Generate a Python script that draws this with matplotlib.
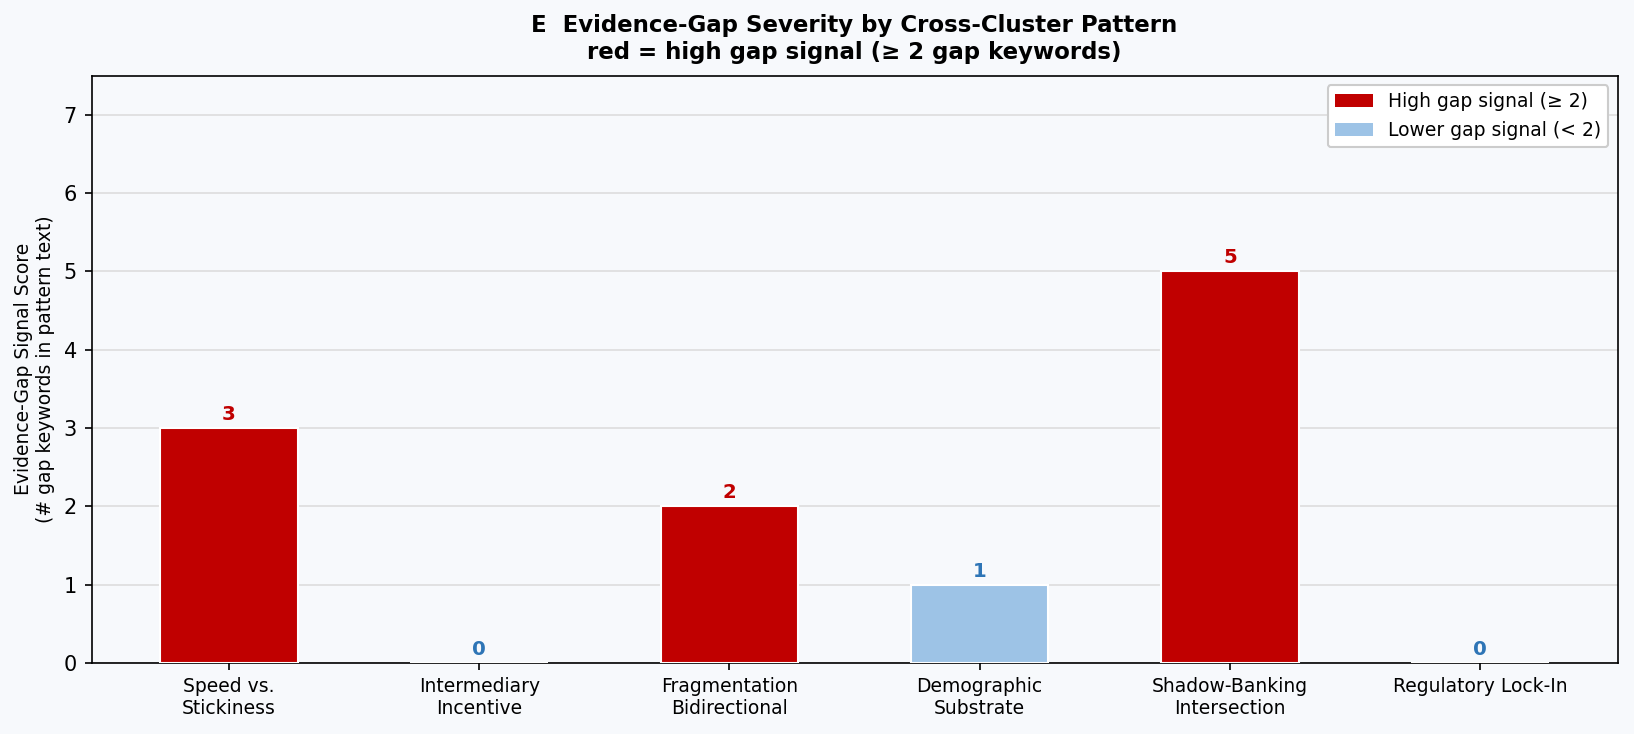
import matplotlib.pyplot as plt
import numpy as np
from matplotlib.patches import Patch

# pattern names and gap keyword counts
patterns = ['Speed vs.\nStickiness', 'Intermediary\nIncentive', 'Fragmentation\nBidirectional',
            'Demographic\nSubstrate', 'Shadow-Banking\nIntersection', 'Regulatory Lock-In']
scores = [3, 0, 2, 1, 5, 0]

red = '#C00000'
blue = '#9DC3E6'
blue_txt = '#2E75B6'
bg = '#F7F9FC'

fig, ax = plt.subplots(figsize=(1634 / 150, 734 / 150), dpi=150)
fig.patch.set_facecolor(bg)
ax.set_facecolor(bg)

x = np.arange(len(patterns))
cols = [red if s >= 2 else blue for s in scores]
ax.bar(x, scores, width=0.55, color=cols, edgecolor='white', linewidth=1.0, zorder=3)

for xi, s in zip(x, scores):
	ax.text(xi, s + 0.05, str(s), ha='center', va='bottom', fontsize=9.5, fontweight='bold',
			color=red if s >= 2 else blue_txt, zorder=4)

ax.set_xticks(x)
ax.set_xticklabels(patterns, fontsize=9)
ax.set_ylim(0, 7.5)
ax.set_xlim(-0.55, 5.55)
ax.tick_params(axis='y', labelsize=10)
ax.set_ylabel('Evidence-Gap Signal Score\n(# gap keywords in pattern text)', fontsize=9)
ax.yaxis.grid(True, color='#DDDDDD', linewidth=0.8, zorder=0)
ax.set_axisbelow(True)
ax.set_title('E  Evidence-Gap Severity by Cross-Cluster Pattern\nred = high gap signal (≥ 2 gap keywords)',
			 fontsize=11, fontweight='bold', pad=8)

handles = [Patch(facecolor=red, label='High gap signal (≥ 2)'),
		   Patch(facecolor=blue, label='Lower gap signal (< 2)')]
ax.legend(handles=handles, loc='upper right', fontsize=9, framealpha=1.0)

plt.subplots_adjust(left=0.056, right=0.990, top=0.897, bottom=0.097)
plt.savefig('out.png', dpi=150, facecolor=bg)
